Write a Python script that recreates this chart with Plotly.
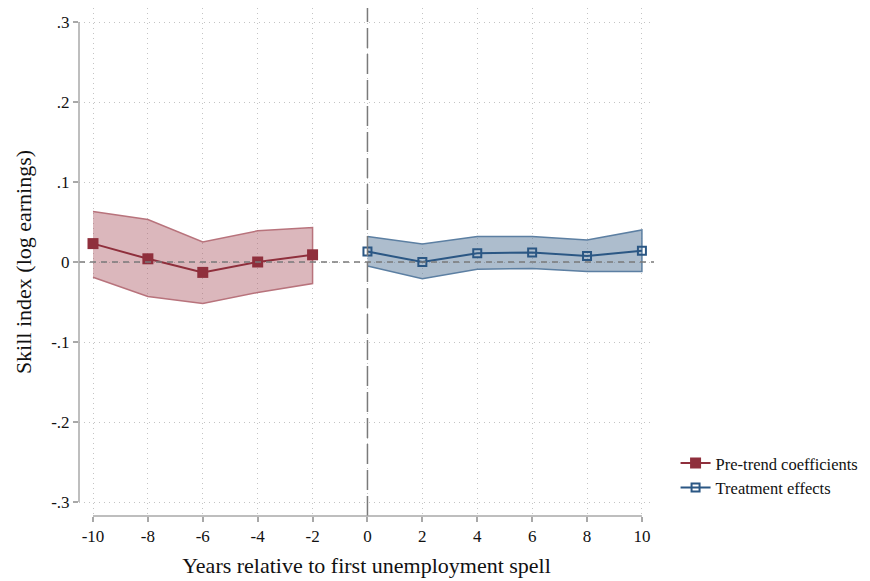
import plotly.graph_objects as go

# ---- data ----
pre_x = [-10, -8, -6, -4, -2]
pre_coef = [0.023, 0.004, -0.013, 0.000, 0.009]
pre_upper = [0.063, 0.053, 0.025, 0.039, 0.043]
pre_lower = [-0.019, -0.043, -0.052, -0.038, -0.027]

post_x = [0, 2, 4, 6, 8, 10]
post_coef = [0.013, 0.000, 0.011, 0.012, 0.0075, 0.014]
post_upper = [0.032, 0.0225, 0.032, 0.032, 0.0275, 0.040]
post_lower = [-0.005, -0.021, -0.009, -0.008, -0.012, -0.012]

x_ticks = [-10, -8, -6, -4, -2, 0, 2, 4, 6, 8, 10]
x_tick_labels = ["-10", "-8", "-6", "-4", "-2", "0", "2", "4", "6", "8", "10"]
y_ticks = [-0.3, -0.2, -0.1, 0, 0.1, 0.2, 0.3]
y_tick_labels = ["-.3", "-.2", "-.1", "0", ".1", ".2", ".3"]

RED = "#8f2f3c"
RED_FILL = "rgba(176,96,106,0.45)"
RED_EDGE = "#b8737c"
BLUE = "#2b5784"
BLUE_FILL = "rgba(92,124,156,0.5)"
BLUE_EDGE = "#5c7fa2"
FONT = "Liberation Serif, Times New Roman, serif"

fig = go.Figure()

fig.add_trace(go.Scatter(
    x=pre_x + pre_x[::-1], y=pre_upper + pre_lower[::-1],
    fill="toself", fillcolor=RED_FILL, mode="lines",
    line=dict(color=RED_EDGE, width=1.5), showlegend=False, hoverinfo="skip"))
fig.add_trace(go.Scatter(
    x=post_x + post_x[::-1], y=post_upper + post_lower[::-1],
    fill="toself", fillcolor=BLUE_FILL, mode="lines",
    line=dict(color=BLUE_EDGE, width=1.5), showlegend=False, hoverinfo="skip"))

fig.add_trace(go.Scatter(
    x=pre_x, y=pre_coef, mode="lines+markers", name="Pre-trend coefficients",
    line=dict(color=RED, width=2),
    marker=dict(symbol="square", size=11, color=RED)))
fig.add_trace(go.Scatter(
    x=post_x, y=post_coef, mode="lines+markers", name="Treatment effects",
    line=dict(color=BLUE, width=2),
    marker=dict(symbol="square-open", size=8, color=BLUE, line=dict(width=2))))

AX = "#a8a8a8"
GRID = "#c4c4c4"
shapes = [
    dict(type="line", xref="paper", yref="y", x0=0, x1=1, y0=0, y1=0,
         line=dict(color="#7a7a7a", width=1.3, dash="6px,5px"), layer="above"),
    dict(type="line", xref="x", yref="paper", x0=0, x1=0, y0=0, y1=1,
         line=dict(color="#7a7a7a", width=1.5, dash="20px,6px"), layer="above"),
    dict(type="line", xref="paper", yref="y", x0=0, x1=0, y0=-0.3, y1=0.3,
         line=dict(color=AX, width=1.5)),
    dict(type="line", xref="x", yref="paper", x0=-10, x1=10, y0=0, y1=0,
         line=dict(color=AX, width=1.5)),
]

fig.update_layout(
    width=862, height=573,
    margin=dict(l=71, r=216, t=0, b=65),
    plot_bgcolor="white", paper_bgcolor="white",
    font=dict(family=FONT, size=17, color="#111"),
    shapes=shapes,
    showlegend=True,
    legend=dict(x=1.0375, y=0.138, xanchor="left", yanchor="top",
                font=dict(family=FONT, size=16.5, color="#111"),
                bgcolor="rgba(0,0,0,0)", tracegroupgap=0),
    xaxis=dict(
        range=[-10.51, 10.44], tickmode="array", tickvals=x_ticks,
        ticktext=x_tick_labels, automargin=False,
        ticks="outside", ticklen=5, tickcolor=AX, tickwidth=1.5,
        showline=False, zeroline=False,
        showgrid=True, gridcolor=GRID, griddash="1px,4px", gridwidth=1,
        tickfont=dict(family=FONT, size=17),
        title=dict(text="Years relative to first unemployment spell",
                   font=dict(family=FONT, size=22), standoff=12),
    ),
    yaxis=dict(
        range=[-0.3175, 0.3175], tickmode="array", tickvals=y_ticks,
        ticktext=y_tick_labels, automargin=False,
        ticks="outside", ticklen=5, tickcolor=AX, tickwidth=1.5,
        showline=False, zeroline=False,
        showgrid=True, gridcolor=GRID, griddash="1px,4px", gridwidth=1,
        tickfont=dict(family=FONT, size=17),
        title=dict(text="Skill index (log earnings)", font=dict(family=FONT, size=22), standoff=13),
    ),
)

fig.write_html("out.html")
